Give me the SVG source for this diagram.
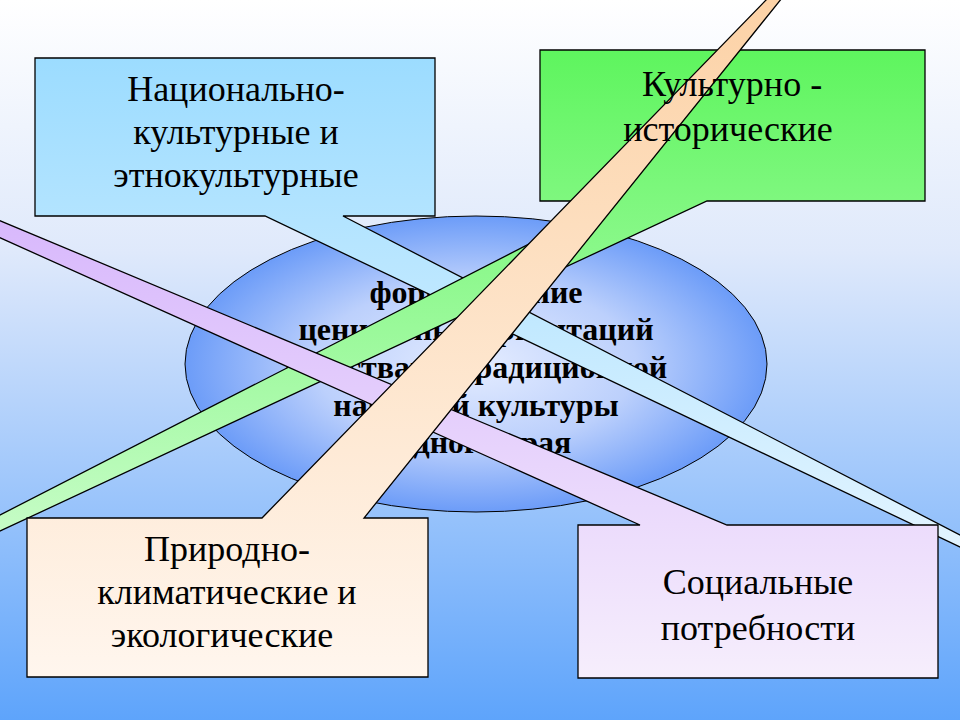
<svg xmlns="http://www.w3.org/2000/svg" width="960" height="720" viewBox="0 0 960 720">
<defs>
<linearGradient id="bg" x1="0" y1="0" x2="0" y2="1"><stop offset="0" stop-color="#ffffff"/><stop offset="0.35" stop-color="#dfe9fb"/><stop offset="1" stop-color="#5ea4fb"/></linearGradient>
<radialGradient id="el" cx="0.5" cy="0.5" r="0.5"><stop offset="0" stop-color="#e4ecff"/><stop offset="0.55" stop-color="#bcd0fc"/><stop offset="1" stop-color="#6c9cf8"/></radialGradient>
<linearGradient id="gB" x1="0" y1="0" x2="0" y2="1"><stop offset="0" stop-color="#9cdcff"/><stop offset="1" stop-color="#e2f4ff"/></linearGradient>
<linearGradient id="gG" x1="0" y1="0" x2="0" y2="1"><stop offset="0" stop-color="#5ef55e"/><stop offset="1" stop-color="#c6fcc6"/></linearGradient>
<linearGradient id="gP" x1="0" y1="0" x2="0" y2="1"><stop offset="0" stop-color="#d8b8fc"/><stop offset="1" stop-color="#f6eefc"/></linearGradient>
<linearGradient id="gO" x1="0" y1="0" x2="0" y2="1"><stop offset="0" stop-color="#fcd2a6"/><stop offset="1" stop-color="#fff6ee"/></linearGradient>
</defs>
<style>
.c{stroke:#000;stroke-width:1.3}
.t{font-family:"Liberation Serif",serif;font-size:36px;fill:#000;text-anchor:middle}
.m{font-family:"Liberation Serif",serif;font-size:32px;font-weight:bold;fill:#000;text-anchor:middle}
</style>
<rect width="960" height="720" fill="url(#bg)"/>
<g id="center">
<ellipse cx="476" cy="364" rx="291" ry="148" fill="url(#el)" stroke="#000" stroke-width="1"/>
<text class="m" x="476" y="303">формирование</text>
<text class="m" x="476" y="340">ценностных ориентаций</text>
<text class="m" x="476" y="378">средствами традиционной</text>
<text class="m" x="476" y="416">народной культуры</text>
<text class="m" x="476" y="453">родного края</text>
</g>
<g id="connectors">
<polygon class="c" fill="url(#gB)" points="35,58 435,58 435,216 343,216 962,536 962,548 265,216 35,216"/>
<polygon class="c" fill="url(#gG)" points="540,50 925,50 925,201 707,201 -2,532 -2,516 613,201 540,201"/>
<polygon class="c" fill="url(#gP)" points="-4,219 -4,236 640,525 578,525 578,678 938,678 938,525 727,525"/>
<polygon class="c" fill="url(#gO)" points="768,-2 782,-2 364,518 428,518 428,677 27,677 27,518 262,518"/>
</g>
<g id="n1"><text class="t" x="236" y="101">Национально-</text><text class="t" x="236" y="144">культурные и</text><text class="t" x="236" y="187">этнокультурные</text></g>
<g id="n2"><text class="t" x="732" y="96">Культурно -</text><text class="t" x="728" y="141">исторические</text></g>
<g id="n3"><text class="t" x="227" y="561">Природно-</text><text class="t" x="227" y="604">климатические и</text><text class="t" x="222" y="647">экологические</text></g>
<g id="n4"><text class="t" x="758" y="594">Социальные</text><text class="t" x="758" y="640">потребности</text></g>
</svg>
